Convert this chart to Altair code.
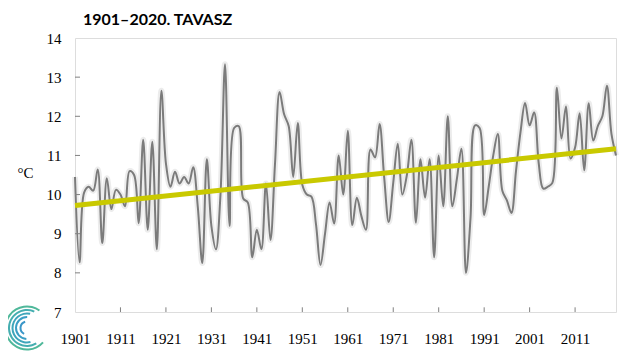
import altair as alt
import pandas as pd

# ---- data ----
years = list(range(1901, 2021))
temps = [
    10.45, 8.27, 10.05, 10.2, 10.1, 10.64, 8.76, 10.42, 9.63, 10.12,   # 1901-1910
    10.0, 9.7, 10.6, 10.5, 9.27, 11.4, 9.1, 11.35, 8.6, 12.65,         # 1911-1920
    10.8, 10.2, 10.58, 10.28, 10.45, 10.28, 10.7, 9.7, 8.25, 10.9,     # 1921-1930
    9.2, 8.6, 10.0, 13.33, 9.2, 11.7, 11.75, 9.9, 9.8, 8.4,            # 1931-1940
    9.1, 8.6, 10.28, 8.84, 10.8, 12.62, 12.05, 11.75, 10.45, 11.83,    # 1941-1950
    10.25, 10.0, 9.95, 9.25, 8.2, 9.0, 9.8, 9.26, 11.0, 10.0,          # 1951-1960
    11.63, 9.22, 9.92, 9.45, 9.1, 11.15, 10.95, 11.8, 10.45, 9.3,      # 1961-1970
    10.3, 11.3, 10.0, 10.5, 11.4, 9.28, 10.9, 9.92, 10.9, 8.4,         # 1971-1980
    11.0, 9.7, 12.0, 9.7, 10.4, 11.17, 8.0, 9.4, 11.77, 11.7,          # 1981-1990
    9.48, 10.2, 11.0, 11.55, 10.1, 9.85, 9.53, 10.6, 11.6, 12.34,      # 1991-2000
    11.77, 12.1, 10.8, 10.15, 10.2, 10.3, 12.73, 11.43, 12.25, 10.92,  # 2001-2010
    11.2, 12.08, 10.62, 12.33, 11.38, 11.75, 12.0, 12.78, 11.55, 11.0, # 2011-2020
]
trend_years = [1901, 2020]
trend_vals = [9.72, 11.17]
x_label_years = list(range(1901, 2012, 10))
x_tick_years = list(range(1911, 2012, 10))
y_label_vals = list(range(7, 15))
y_tick_vals = list(range(8, 14))

title_text = "1901\u20132020. TAVASZ"
unit_text = "\u00b0C"

df = pd.DataFrame({"year": years, "temp": temps})
df_trend = pd.DataFrame({"year": trend_years, "temp": trend_vals})
df_xt = pd.DataFrame({"year": x_tick_years, "y0": [7.0] * len(x_tick_years), "y1": [7.12] * len(x_tick_years)})
df_yt = pd.DataFrame({"v": y_tick_vals, "x0": [1901] * len(y_tick_vals), "x1": [1902.1] * len(y_tick_vals)})

x_scale = alt.Scale(domain=[1901, 2020], nice=False, zero=False)
y_scale = alt.Scale(domain=[7, 14], nice=False, zero=False)

serif = "Liberation Serif"

x_axis = alt.Axis(values=x_label_years, format="d", labelFlush=False, ticks=False,
                  domain=False, grid=False, labelFont=serif, labelFontSize=15,
                  labelColor="#000000", labelPadding=19, labelOverlap=False,
                  title=None)
y_axis = alt.Axis(values=y_label_vals, format="d", ticks=False, domain=False, grid=False,
                  labelFont=serif, labelFontSize=15, labelColor="#000000",
                  labelPadding=14, labelOverlap=False, labelFlush=False,
                  labelBound=False,
                  title=unit_text, titleAngle=0, titleX=-50,
                  titleY=134, titleFont=serif, titleFontWeight="normal",
                  titleFontSize=15, titleColor="#000000", titleAlign="center",
                  titleBaseline="middle")

glow = alt.Chart(df).mark_line(color="#808080", strokeWidth=6, opacity=0.15,
                               interpolate="catmull-rom").encode(
    x=alt.X("year:Q", scale=x_scale, axis=x_axis),
    y=alt.Y("temp:Q", scale=y_scale, axis=y_axis),
)
line = alt.Chart(df).mark_line(color="#7b7b7b", strokeWidth=2,
                               interpolate="catmull-rom").encode(
    x=alt.X("year:Q", scale=x_scale, axis=x_axis),
    y=alt.Y("temp:Q", scale=y_scale, axis=y_axis),
)
trend = alt.Chart(df_trend).mark_line(color="#c9c900", strokeWidth=5).encode(
    x=alt.X("year:Q", scale=x_scale, axis=x_axis),
    y=alt.Y("temp:Q", scale=y_scale, axis=y_axis),
)
xticks = alt.Chart(df_xt).mark_rule(color="#808080", strokeWidth=1).encode(
    x=alt.X("year:Q", scale=x_scale, axis=x_axis),
    y=alt.Y("y0:Q", scale=y_scale, axis=y_axis),
    y2="y1",
)
yticks = alt.Chart(df_yt).mark_rule(color="#808080", strokeWidth=1).encode(
    x=alt.X("x0:Q", scale=x_scale, axis=x_axis),
    x2="x1",
    y=alt.Y("v:Q", scale=y_scale, axis=y_axis),
)

# decorative logo (spiral of arcs) in the bottom-left corner
logo_arcs = [
    (20.5, 22.5, 2.3, 6.9, "#4fb89a"),
    (17, 19, 2.6, 6.7, "#45aeb0"),
    (13.5, 15.5, 2.9, 6.5, "#3ea6bb"),
    (10, 12, 3.2, 6.3, "#3a9ec5"),
    (5.5, 7.5, 3.6, 6.0, "#3a96c8"),
]
logo_layers = []
for r1, r2, t1, t2, col in logo_arcs:
    logo_layers.append(
        alt.Chart(pd.DataFrame({"k": [0]})).mark_arc(
            radius=r2, radius2=r1, theta=t1, theta2=t2, color=col
        ).encode(x=alt.value(-48), y=alt.value(290))
    )

chart = alt.layer(glow, line, trend, xticks, yticks, *logo_layers).properties(
    width=541,
    height=274,
    autosize=alt.AutoSizeParams(type="none"),
    padding={"left": 67, "top": 30, "right": 8, "bottom": 45},
    title=alt.TitleParams(title_text, anchor="start", frame="group", dx=8,
                          offset=3, font="Lato", fontSize=16,
                          fontWeight="bold", color="#000000"),
).configure_view(
    stroke="#808080", strokeWidth=1
).configure_axis(
    labelOverlap=False
).configure(background="white")

chart.save("out.html", embed_options={"renderer": "svg", "actions": False})
